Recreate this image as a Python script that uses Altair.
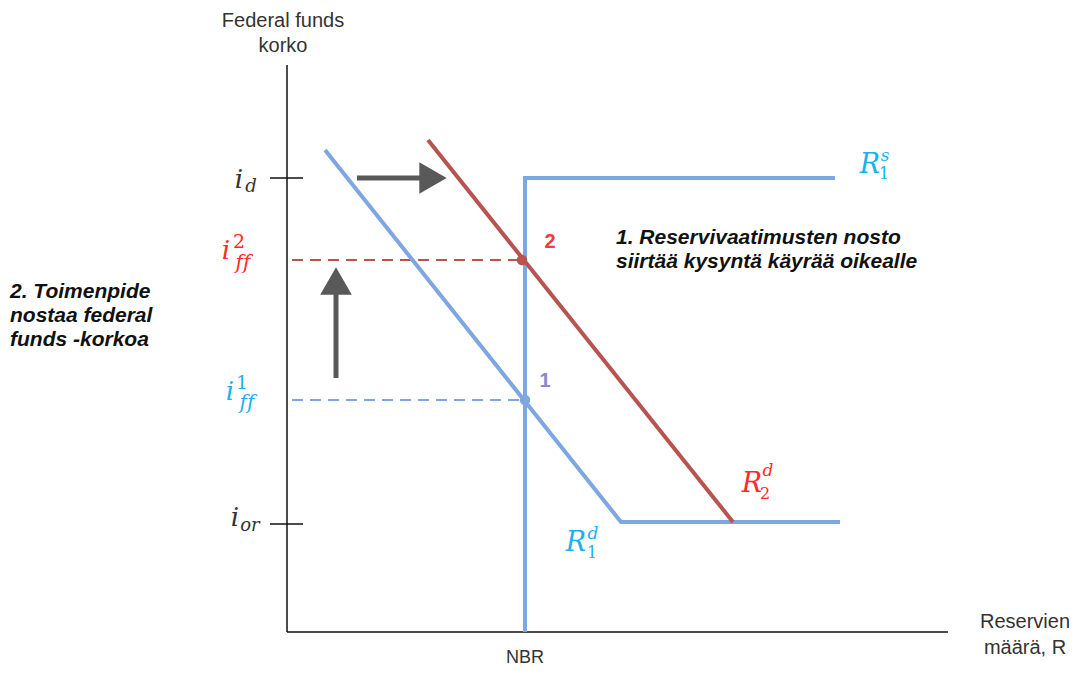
import altair as alt
import pandas as pd

# ---- chart units: origin at the axes corner ----
# axis frame and tick marks
frame_x = [0, 0, -17, -17]
frame_y = [0, 0, 454, 108]
frame_x2 = [0, 661, 16, 16]
frame_y2 = [567, 0, 454, 108]

# dashed guide lines (rate levels at the equilibria)
guide_y = [372, 232]
guide_x1 = [5, 5]
guide_x2 = [235, 238]
guide_color = ["#b85450", "#7ea6e0"]

# curves
supply_x = [238, 238, 548]
supply_y = [0, 454, 454]
demand1_x = [38, 334, 553]
demand1_y = [482, 110, 110]
demand2_x = [141, 446]
demand2_y = [492, 110]

# equilibrium points
eq_x = [235, 238]
eq_y = [372, 232]
eq_color = ["#b85450", "#7ea6e0"]
eq_label = ["2", "1"]
eq_label_x = [263, 258]
eq_label_y = [390, 251]
eq_label_color = ["#f03c3c", "#8a87d6"]

# arrows
shaft_x = [70, 49]
shaft_y = [454, 254]
shaft_x2 = [140, 49]
shaft_y2 = [454, 345]
head_x = [146, 49]
head_y = [454, 351]
head_shape = ["triangle-right", "triangle-up"]

# math labels
ZW = "\u200c"
math_text = ["i", "d", "i", "2", "f" + ZW + "f", "i", "1", "f" + ZW + "f", "i", "or",
             "R", "s", "1", "R", "d", "1", "R", "d", "2"]
math_x = [-48, -36, -61, -48, -44, -57, -45, -40, -52, -37,
          583, 598, 597, 289, 306, 305, 465, 481, 478]
math_y = [452, 445, 381, 390, 369, 240, 249, 229, 114, 106,
          467, 476, 458, 89, 98, 79, 148, 161, 138]
math_size = [26, 18, 26, 19, 20, 26, 19, 20, 26, 18,
             27, 17, 16, 27, 17, 16, 27, 17, 16]
math_italic = [1, 1, 1, 0, 1, 1, 0, 1, 1, 1,
               1, 1, 0, 1, 1, 0, 1, 1, 0]
math_color = ["#333333", "#333333", "#ff2a2a", "#ff2a2a", "#ff2a2a",
              "#1bb0ee", "#1bb0ee", "#1bb0ee", "#333333", "#333333",
              "#1bb0ee", "#1bb0ee", "#1bb0ee", "#1bb0ee", "#1bb0ee", "#1bb0ee",
              "#ff2a2a", "#ff2a2a", "#ff2a2a"]

# plain axis titles
title_text = ["Federal funds", "korko", "Reservien", "määrä, R", "NBR"]
title_x = [-4, -4, 738, 738, 238]
title_y = [611, 586, 10, -16, -26]
title_size = [20, 20, 20, 20, 18]

# bold italic annotations
note_text = ["1. Reservivaatimusten nosto", "siirtää kysyntä käyrää oikealle",
             "2. Toimenpide", "nostaa federal", "funds -korkoa"]
note_x = [329, 329, -277, -277, -277]
note_y = [394, 370, 340, 316, 292]

X = alt.Scale(domain=[-279, 782], nice=False, zero=False)
Y = alt.Scale(domain=[-35, 624], nice=False, zero=False)

def xe(f):
    return alt.X(f, type="quantitative", scale=X, axis=None)

def ye(f):
    return alt.Y(f, type="quantitative", scale=Y, axis=None)

frame = alt.Chart(pd.DataFrame({"x": frame_x, "y": frame_y, "x2": frame_x2, "y2": frame_y2})).mark_rule(
    color="#111111", strokeWidth=1.5).encode(x=xe("x"), y=ye("y"), x2="x2", y2="y2")

guides = alt.Chart(pd.DataFrame({"x": guide_x1, "x2": guide_x2, "y": guide_y, "c": guide_color})).mark_rule(
    strokeWidth=2, strokeDash=[11, 7]).encode(
    x=xe("x"), x2="x2", y=ye("y"), color=alt.Color("c:N", scale=None))

curves_df = pd.DataFrame({
    "x": supply_x + demand1_x + demand2_x,
    "y": supply_y + demand1_y + demand2_y,
    "s": ["S1"] * 3 + ["D1"] * 3 + ["D2"] * 2,
    "o": list(range(3)) + list(range(3)) + list(range(2)),
    "c": ["#7ea6e0"] * 6 + ["#b85450"] * 2,
})
curves = alt.Chart(curves_df).mark_line(strokeWidth=4, strokeJoin="miter").encode(
    x=xe("x"), y=ye("y"), detail="s:N", order="o:Q", color=alt.Color("c:N", scale=None))

shafts = alt.Chart(pd.DataFrame({"x": shaft_x, "y": shaft_y, "x2": shaft_x2, "y2": shaft_y2})).mark_rule(
    color="#595959", strokeWidth=5).encode(x=xe("x"), y=ye("y"), x2="x2", y2="y2")

heads = alt.Chart(pd.DataFrame({"x": head_x, "y": head_y, "s": head_shape})).mark_point(
    filled=True, color="#595959", size=1000, opacity=1).encode(
    x=xe("x"), y=ye("y"), shape=alt.Shape("s:N", scale=None))

dots = alt.Chart(pd.DataFrame({"x": eq_x, "y": eq_y, "c": eq_color})).mark_circle(size=110, opacity=1).encode(
    x=xe("x"), y=ye("y"), color=alt.Color("c:N", scale=None))

eq_labels = alt.Chart(pd.DataFrame({"x": eq_label_x, "y": eq_label_y, "t": eq_label, "c": eq_label_color})).mark_text(
    font="Liberation Sans", fontSize=20, fontWeight="bold").encode(
    x=xe("x"), y=ye("y"), text="t:N", color=alt.Color("c:N", scale=None))

math_df = pd.DataFrame({"x": math_x, "y": math_y, "t": math_text, "s": math_size,
                        "it": math_italic, "c": math_color})
math_it = alt.Chart(math_df[math_df.it == 1]).mark_text(
    font="DejaVu Serif", fontStyle="italic").encode(
    x=xe("x"), y=ye("y"), text="t:N", size=alt.Size("s:Q", scale=None),
    color=alt.Color("c:N", scale=None))
math_up = alt.Chart(math_df[math_df.it == 0]).mark_text(
    font="DejaVu Serif").encode(
    x=xe("x"), y=ye("y"), text="t:N", size=alt.Size("s:Q", scale=None),
    color=alt.Color("c:N", scale=None))

titles = alt.Chart(pd.DataFrame({"x": title_x, "y": title_y, "t": title_text, "s": title_size})).mark_text(
    font="Liberation Sans", color="#333333").encode(
    x=xe("x"), y=ye("y"), text="t:N", size=alt.Size("s:Q", scale=None))

notes = alt.Chart(pd.DataFrame({"x": note_x, "y": note_y, "t": note_text})).mark_text(
    font="Liberation Sans", fontSize=21, fontWeight="bold", fontStyle="italic",
    color="#111111", align="left").encode(x=xe("x"), y=ye("y"), text="t:N")

chart = alt.layer(frame, guides, curves, shafts, heads, dots, eq_labels,
                  math_it, math_up, titles, notes).properties(
    width=1061, height=659, padding=0,
    autosize=alt.AutoSizeParams(type="none"),
    background="white",
).configure_view(stroke=None)

chart.save("out.html", embed_options={"renderer": "svg", "actions": False})
